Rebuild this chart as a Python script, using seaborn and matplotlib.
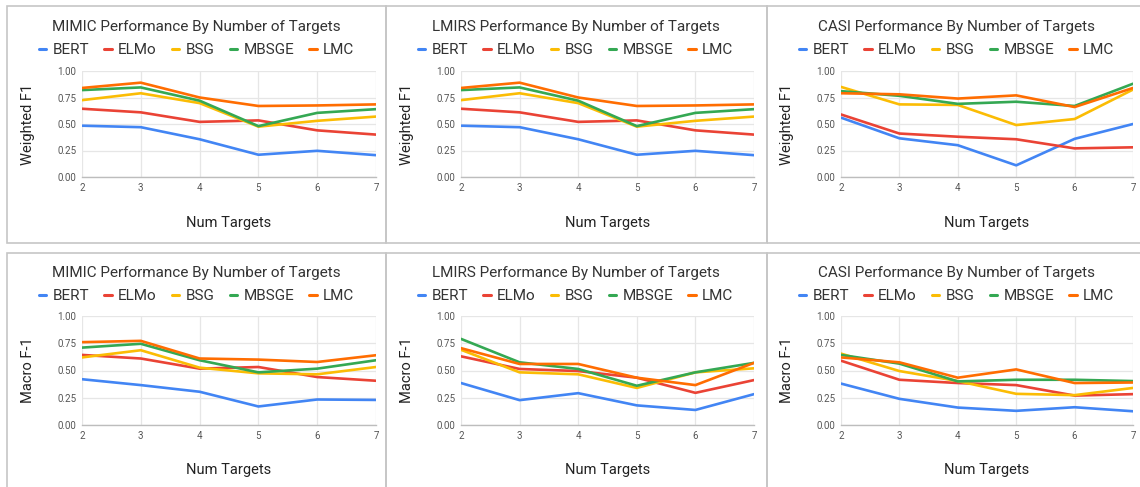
import pandas as pd
import seaborn as sns
import matplotlib.pyplot as plt
from matplotlib.patches import Rectangle

# Data
num_targets = [2, 3, 4, 5, 6, 7]
models = ['BERT', 'ELMo', 'BSG', 'MBSGE', 'LMC']
colors = ['#4285F4', '#EA4335', '#FBBC04', '#34A853', '#FF6D01']

mimic_weighted = {
    'BERT': [0.484, 0.47, 0.356, 0.21, 0.247, 0.206],
    'ELMo': [0.644, 0.61, 0.52, 0.534, 0.44, 0.40],
    'BSG': [0.725, 0.79, 0.697, 0.475, 0.53, 0.57],
    'MBSGE': [0.82, 0.845, 0.72, 0.48, 0.605, 0.64],
    'LMC': [0.84, 0.89, 0.75, 0.67, 0.675, 0.685],
}
lmirs_weighted = {
    'BERT': [0.484, 0.47, 0.356, 0.21, 0.247, 0.206],
    'ELMo': [0.644, 0.61, 0.52, 0.534, 0.44, 0.40],
    'BSG': [0.725, 0.79, 0.697, 0.475, 0.53, 0.57],
    'MBSGE': [0.82, 0.845, 0.72, 0.48, 0.605, 0.64],
    'LMC': [0.84, 0.89, 0.75, 0.67, 0.675, 0.685],
}
casi_weighted = {
    'BERT': [0.56, 0.365, 0.30, 0.11, 0.36, 0.50],
    'ELMo': [0.59, 0.41, 0.38, 0.356, 0.27, 0.28],
    'BSG': [0.85, 0.685, 0.68, 0.49, 0.547, 0.825],
    'MBSGE': [0.81, 0.766, 0.69, 0.71, 0.67, 0.88],
    'LMC': [0.79, 0.78, 0.74, 0.77, 0.66, 0.84],
}
mimic_macro = {
    'BERT': [0.42, 0.366, 0.305, 0.17, 0.234, 0.23],
    'ELMo': [0.643, 0.61, 0.517, 0.532, 0.44, 0.406],
    'BSG': [0.62, 0.686, 0.526, 0.474, 0.465, 0.532],
    'MBSGE': [0.71, 0.745, 0.594, 0.483, 0.517, 0.594],
    'LMC': [0.76, 0.772, 0.61, 0.60, 0.578, 0.64],
}
lmirs_macro = {
    'BERT': [0.385, 0.228, 0.292, 0.18, 0.138, 0.283],
    'ELMo': [0.63, 0.514, 0.495, 0.434, 0.295, 0.412],
    'BSG': [0.69, 0.483, 0.465, 0.34, 0.483, 0.52],
    'MBSGE': [0.79, 0.575, 0.514, 0.36, 0.483, 0.57],
    'LMC': [0.705, 0.56, 0.56, 0.434, 0.366, 0.57],
}
casi_macro = {
    'BERT': [0.38, 0.24, 0.16, 0.13, 0.163, 0.126],
    'ELMo': [0.59, 0.415, 0.385, 0.366, 0.27, 0.283],
    'BSG': [0.655, 0.495, 0.403, 0.286, 0.274, 0.34],
    'MBSGE': [0.643, 0.563, 0.40, 0.415, 0.415, 0.403],
    'LMC': [0.62, 0.575, 0.434, 0.51, 0.385, 0.39],
}

panels = [
    ('MIMIC Performance By Number of Targets', 'Weighted F1', mimic_weighted),
    ('LMIRS Performance By Number of Targets', 'Weighted F1', lmirs_weighted),
    ('CASI Performance By Number of Targets', 'Weighted F1', casi_weighted),
    ('MIMIC Performance By Number of Targets', 'Macro F-1', mimic_macro),
    ('LMIRS Performance By Number of Targets', 'Macro F-1', lmirs_macro),
    ('CASI Performance By Number of Targets', 'Macro F-1', casi_macro),
]

sns.set_style('white')
plt.rcParams['font.family'] = ['Roboto', 'DejaVu Sans']

W, H = 1140, 487
fig = plt.figure(figsize=(W / 100, H / 100), dpi=100)

# pixel layout (measured from the top-left of the picture)
plot_x = [(82, 376), (461, 754), (841, 1133)]
plot_y = [(71, 177), (316, 425)]
box_x = [(7, 386), (386, 767), (767, 1150)]
box_y = [(6, 243), (253, 495)]
ylab_x = [28, 407, 787]
title_y = [27, 273]
legend_y = [50, 296]
xlab_y = [223, 470]


def fx(px):
    return px / W


def fy(py):
    return 1 - py / H


palette = dict(zip(models, colors))

for i, (title, ylabel, data) in enumerate(panels):
    r, c = divmod(i, 3)
    # panel border
    bx0, bx1 = box_x[c]
    by0, by1 = box_y[r]
    fig.patches.append(Rectangle((fx(bx0), fy(by1)), fx(bx1 - bx0), (by1 - by0) / H,
                                 transform=fig.transFigure, fill=False,
                                 edgecolor='#c6c6c6', linewidth=1.2, zorder=0))

    x0, x1 = plot_x[c]
    y0, y1 = plot_y[r]
    ax = fig.add_axes([fx(x0), fy(y1), fx(x1 - x0), (y1 - y0) / H])

    df = pd.DataFrame(data)
    df['Num Targets'] = num_targets
    long_df = df.melt(id_vars='Num Targets', var_name='Model', value_name='Score')
    sns.lineplot(data=long_df, x='Num Targets', y='Score', hue='Model',
                 hue_order=models, palette=palette, linewidth=1.9, ax=ax,
                 legend=False)

    ax.set_xlim(2, 7)
    ax.set_ylim(0, 1)
    ax.set_xticks(num_targets)
    ax.set_yticks([0, 0.25, 0.5, 0.75, 1.0])
    ax.set_yticklabels(['0.00', '0.25', '0.50', '0.75', '1.00'])
    ax.grid(True, color='#e6e6e6', linewidth=0.9)
    ax.set_axisbelow(True)
    for side in ['top', 'right', 'left']:
        ax.spines[side].set_visible(False)
    ax.spines['bottom'].set_color('#bdbdbd')
    ax.spines['bottom'].set_linewidth(1.0)
    ax.tick_params(axis='both', length=0, labelsize=7, colors='#555555', pad=4)
    ax.set_xlabel('')
    ax.set_ylabel('')

    # titles, legend and axis labels are placed in pixel coordinates
    center = (bx0 + bx0 + 379) / 2
    fig.text(fx(ylab_x[c]), fy((y0 + y1) / 2), ylabel, rotation=90,
             ha='center', va='center', fontsize=10.5, color='#222222')
    fig.text(fx(center), fy(title_y[r]), title,
             ha='center', va='center', fontsize=11, color='#333333')
    fig.text(fx((x0 + x1) / 2), fy(xlab_y[r]), 'Num Targets',
             ha='center', va='center', fontsize=10.5, color='#222222')

    handles = [plt.Line2D([], [], color=col, linewidth=2.2) for col in colors]
    fig.legend(handles, models, loc='center',
               bbox_to_anchor=(fx(center), fy(legend_y[r])),
               ncol=5, frameon=False, handlelength=0.5, handletextpad=0.4,
               columnspacing=1.0, fontsize=11, labelcolor='#333333',
               borderaxespad=0, borderpad=0)

fig.savefig('out.png', dpi=100)
